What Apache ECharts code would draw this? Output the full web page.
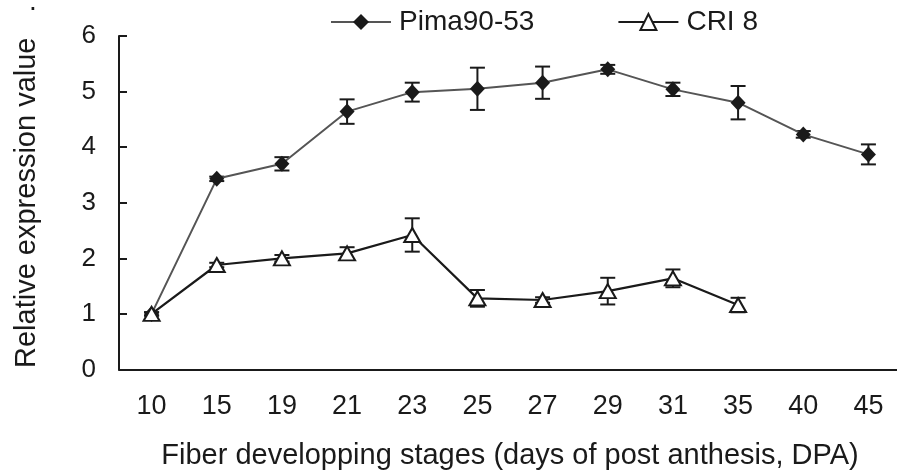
<!DOCTYPE html>
<html>
<head>
<meta charset="utf-8">
<script src="https://cdn.jsdelivr.net/npm/echarts@6/dist/echarts.min.js"></script>
<style>html,body{margin:0;padding:0;background:#fff}#c{width:897px;height:472px}</style>
</head>
<body>
<div id="c"></div>
<script>
var categories = ['10','15','19','21','23','25','27','29','31','35','40','45'];
var pimaName = 'Pima90-53';
var criName = 'CRI 8';
var pima = [1.0, 3.43, 3.70, 4.64, 4.99, 5.05, 5.16, 5.40, 5.04, 4.80, 4.23, 3.87];
var pimaErr = [0.03, 0.04, 0.12, 0.22, 0.17, 0.38, 0.29, 0.08, 0.12, 0.30, 0.06, 0.18];
var cri = [1.0, 1.88, 2.0, 2.09, 2.42, 1.28, 1.25, 1.41, 1.64, 1.16, null, null];
var criErr = [0.03, 0.04, 0.06, 0.11, 0.30, 0.15, 0.05, 0.24, 0.16, 0.13, null, null];
var yTicks = [0, 1, 2, 3, 4, 5, 6];

var FONT = "'Liberation Sans', Arial, sans-serif";
var INK = '#1a1a1a';
var FS = 28;

function errData(vals, errs) {
  var out = [];
  for (var i = 0; i < vals.length; i++) {
    if (vals[i] != null && errs[i] != null) out.push([i, vals[i] - errs[i], vals[i] + errs[i]]);
  }
  return out;
}
function errSeries(data) {
  return {
    type: 'custom',
    silent: true,
    z: 1,
    data: data,
    renderItem: function (params, api) {
      var lo = api.coord([api.value(0), api.value(1)]);
      var hi = api.coord([api.value(0), api.value(2)]);
      var w = 7.5;
      var st = { stroke: INK, lineWidth: 2 };
      return {
        type: 'group',
        children: [
          { type: 'line', shape: { x1: lo[0], y1: lo[1], x2: hi[0], y2: hi[1] }, style: st },
          { type: 'line', shape: { x1: lo[0] - w, y1: lo[1], x2: lo[0] + w, y2: lo[1] }, style: st },
          { type: 'line', shape: { x1: hi[0] - w, y1: hi[1], x2: hi[0] + w, y2: hi[1] }, style: st }
        ]
      };
    }
  };
}

var chart = echarts.init(document.getElementById('c'), null, { renderer: 'canvas' });
chart.setOption({
  animation: false,
  backgroundColor: '#fff',
  textStyle: { fontFamily: FONT, color: INK },
  legend: {
    data: [pimaName, criName],
    left: 325,
    top: 3,
    itemWidth: 60,
    itemHeight: 20,
    itemGap: 83,
    textStyle: { fontFamily: FONT, fontSize: FS, color: INK, padding: [0, 0, 0, 3] }
  },
  grid: { left: 119, top: 36, width: 782, height: 333.5, containLabel: false, outerBoundsMode: 'none' },
  xAxis: {
    type: 'category',
    data: categories,
    boundaryGap: true,
    name: 'Fiber developping stages (days of post anthesis, DPA)',
    nameLocation: 'middle',
    nameGap: 72,
    nameTextStyle: { fontFamily: FONT, fontSize: 29, color: INK },
    axisLine: { lineStyle: { color: INK, width: 2 } },
    axisTick: { inside: true, length: 8, interval: 0, lineStyle: { color: INK, width: 2 } },
    axisLabel: { interval: 0, margin: 24, fontFamily: FONT, fontSize: 27, color: INK },
    splitLine: { show: false }
  },
  yAxis: {
    type: 'value',
    min: yTicks[0],
    max: yTicks[yTicks.length - 1],
    interval: 1,
    name: 'Relative expression value',
    nameLocation: 'middle',
    nameGap: 78,
    nameTextStyle: { fontFamily: FONT, fontSize: 29, color: INK },
    axisLine: { show: true, lineStyle: { color: INK, width: 2 } },
    axisTick: { show: true, inside: true, length: 8, lineStyle: { color: INK, width: 2 } },
    axisLabel: { margin: 23, fontFamily: FONT, fontSize: 26, color: INK },
    splitLine: { show: false }
  },
  graphic: [
    { type: 'text', left: 29, top: -12, style: { text: '.', font: FS + 'px ' + FONT, fill: INK } }
  ],
  series: [
    errSeries(errData(pima, pimaErr)),
    errSeries(errData(cri, criErr)),
    {
      name: pimaName,
      type: 'line',
      z: 3,
      data: pima,
      symbol: 'diamond',
      symbolSize: [15, 16],
      showAllSymbol: true,
      lineStyle: { color: '#555555', width: 2 },
      itemStyle: { color: INK, borderColor: INK, borderWidth: 0 }
    },
    {
      name: criName,
      type: 'line',
      z: 4,
      data: cri,
      symbol: 'triangle',
      symbolSize: [16, 14],
      showAllSymbol: true,
      lineStyle: { color: INK, width: 2.2 },
      itemStyle: { color: '#ffffff', borderColor: INK, borderWidth: 2 }
    }
  ]
});
</script>
</body>
</html>
